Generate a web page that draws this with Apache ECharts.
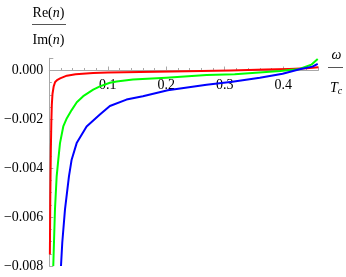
<!DOCTYPE html>
<html>
<head>
<meta charset="utf-8">
<script src="https://cdn.jsdelivr.net/npm/echarts@6/dist/echarts.min.js"></script>
<style>
html,body{margin:0;padding:0;background:#fff;}
#chart{width:346px;height:277px;}
</style>
</head>
<body>
<div id="chart"></div>
<script>
// ω/T_c values and Re(n)/Im(n) values
var redX = [0.0010, 0.0017, 0.0026, 0.0035, 0.0043, 0.0055, 0.0075, 0.0100, 0.0140, 0.0185, 0.0300, 0.0450, 0.0750, 0.1000, 0.1550, 0.2100, 0.2600, 0.3100, 0.3700, 0.4100, 0.4400, 0.4600];
var redY = [-0.00753, -0.0052, -0.0033, -0.0021, -0.0014, -0.00095, -0.00065, -0.00047, -0.00038, -0.00032, -0.00021, -0.00015, -0.0001, -0.00008, -0.00006, -0.00004, -0.00002, 0.0, 0.00004, 0.00006, 0.00009, 0.00013];

var greenX = [0.0068, 0.0097, 0.0126, 0.0154, 0.0183, 0.0239, 0.0300, 0.0382, 0.0470, 0.0580, 0.0751, 0.0865, 0.1036, 0.1150, 0.1430, 0.2000, 0.2690, 0.3170, 0.3950, 0.4280, 0.4480, 0.4590];
var greenY = [-0.008, -0.00569, -0.00433, -0.00365, -0.00297, -0.00229, -0.00195, -0.00162, -0.00130, -0.00105, -0.00078, -0.00065, -0.0005, -0.00045, -0.00037, -0.0003, -0.00018, -0.00015, -0.00002, 0.00006, 0.00024, 0.00047];

var blueX = [0.0200, 0.0222, 0.0268, 0.0336, 0.0382, 0.0468, 0.0638, 0.0865, 0.1036, 0.1320, 0.1600, 0.2026, 0.2690, 0.3130, 0.3600, 0.3990, 0.4280, 0.4500, 0.4590];
var blueY = [-0.008, -0.00704, -0.00569, -0.00433, -0.00365, -0.00297, -0.00229, -0.0018, -0.00145, -0.00119, -0.00105, -0.00081, -0.00058, -0.00046, -0.0003, -0.00013, 0.00005, 0.00016, 0.00027];

var xTicks = [0.1, 0.2, 0.3, 0.4];
var yTicks = [0.000, -0.002, -0.004, -0.006, -0.008];

function pairs(xs, ys) { return xs.map(function (x, i) { return [x, ys[i]]; }); }

var serif = 'Liberation Serif, Times New Roman, serif';
var axisGray = '#a8a8a8';

var gridTop = 58.3, gridBottom = 11, H = 277;
var yMin = -0.008, yMax = 0.0005;
var plotH = H - gridTop - gridBottom;
// distance from the bottom of the plot to the y=0 line, so the x axis sits at zero
var xAxisOffset = -plotH * (0 - yMin) / (yMax - yMin);

var chart = echarts.init(document.getElementById('chart'), null, {renderer: 'canvas'});
chart.setOption({
  animation: false,
  grid: {left: 49.3, right: 27.7, top: gridTop, bottom: gridBottom, containLabel: false, outerBoundsMode: 'none'},
  xAxis: {
    type: 'value', min: 0, max: 0.46, interval: 0.1, position: 'bottom', offset: xAxisOffset,
    axisLine: {onZero: false, lineStyle: {color: axisGray, width: 1}},
    axisTick: {inside: true, length: 4, lineStyle: {color: axisGray}},
    minorTick: {show: true, splitNumber: 5, length: 2.5, lineStyle: {color: axisGray}},
    splitLine: {show: false},
    axisLabel: {
      showMinLabel: false, showMaxLabel: false, margin: 8,
      fontFamily: serif, fontSize: 14, color: '#000',
      formatter: function (v) {
        for (var i = 0; i < xTicks.length; i++) if (Math.abs(v - xTicks[i]) < 1e-9) return xTicks[i].toFixed(1);
        return '';
      }
    }
  },
  yAxis: {
    type: 'value', min: yMin, max: yMax, interval: 0.002,
    axisLine: {onZero: false, lineStyle: {color: axisGray, width: 1}},
    axisTick: {inside: true, length: 4, lineStyle: {color: axisGray}},
    minorTick: {show: true, splitNumber: 4, length: 2.5, lineStyle: {color: axisGray}},
    splitLine: {show: false},
    axisLabel: {
      showMaxLabel: false, margin: 6,
      fontFamily: serif, fontSize: 14, color: '#000',
      formatter: function (v) {
        for (var i = 0; i < yTicks.length; i++) {
          if (Math.abs(v - yTicks[i]) < 1e-9) {
            var s = Math.abs(yTicks[i]).toFixed(3);
            return yTicks[i] < -1e-12 ? '\u2212' + s : s;
          }
        }
        return '';
      }
    }
  },
  graphic: [
    {type: 'text', style: {text: '{r|Re(}{i|n}{r|)}', x: 48.5, y: 13, align: 'center', verticalAlign: 'middle',
      rich: {r: {fontFamily: serif, fontSize: 14, fill: '#000', color: '#000'}, i: {fontFamily: serif, fontSize: 14, fontStyle: 'italic', fill: '#000', color: '#000'}}}},
    {type: 'line', shape: {x1: 32, y1: 24.5, x2: 66, y2: 24.5}, style: {stroke: '#555', lineWidth: 1}},
    {type: 'text', style: {text: '{r|Im(}{i|n}{r|)}', x: 48.5, y: 40, align: 'center', verticalAlign: 'middle',
      rich: {r: {fontFamily: serif, fontSize: 14, fill: '#000', color: '#000'}, i: {fontFamily: serif, fontSize: 14, fontStyle: 'italic', fill: '#000', color: '#000'}}}},
    {type: 'text', style: {text: 'ω', x: 336.5, y: 55, align: 'center', verticalAlign: 'middle',
      font: 'italic 14px ' + serif, fill: '#000'}},
    {type: 'line', shape: {x1: 328, y1: 67.5, x2: 343, y2: 67.5}, style: {stroke: '#555', lineWidth: 1}},
    {type: 'text', style: {text: '{t|T}{c|c}', x: 336, y: 88, align: 'center', verticalAlign: 'middle',
      rich: {t: {fontFamily: serif, fontSize: 14, fontStyle: 'italic', fill: '#000', color: '#000'},
             c: {fontFamily: serif, fontSize: 10, fontStyle: 'italic', fill: '#000', color: '#000', verticalAlign: 'bottom', padding: [6, 0, 0, 0]}}}}
  ],
  series: [
    {type: 'line', data: pairs(redX, redY), showSymbol: false, smooth: false, clip: true,
      lineStyle: {color: '#ff0000', width: 2, join: 'round'}, itemStyle: {color: '#ff0000'}},
    {type: 'line', data: pairs(greenX, greenY), showSymbol: false, smooth: false, clip: true,
      lineStyle: {color: '#00ff00', width: 2, join: 'round'}, itemStyle: {color: '#00ff00'}},
    {type: 'line', data: pairs(blueX, blueY), showSymbol: false, smooth: false, clip: true,
      lineStyle: {color: '#0000ff', width: 2, join: 'round'}, itemStyle: {color: '#0000ff'}}
  ]
});
</script>
</body>
</html>
